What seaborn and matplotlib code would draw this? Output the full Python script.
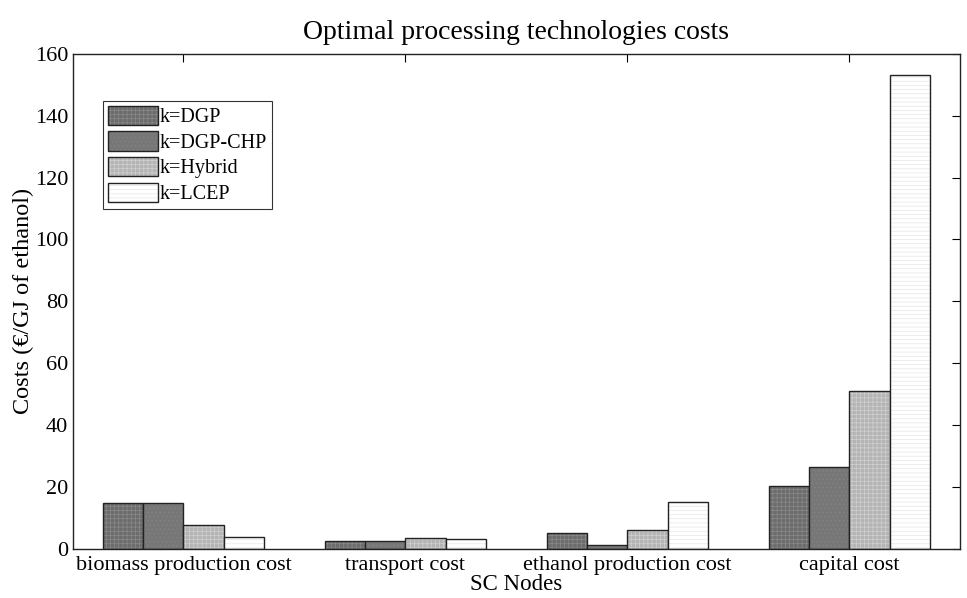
import seaborn as sns, matplotlib, matplotlib.pyplot as plt, numpy as np, pandas as pd
from matplotlib import colors as mcolors

nodes = ['biomass production cost', 'transport cost', 'ethanol production cost', 'capital cost']
techs = ['k=DGP', 'k=DGP-CHP', 'k=Hybrid', 'k=LCEP']
dgp = [14.7, 2.5, 5.3, 20.3]
dgp_chp = [14.7, 2.5, 1.3, 26.4]
hybrid = [7.6, 3.5, 6.0, 51.0]
lcep = [4.0, 3.3, 15.2, 153.3]

df = pd.DataFrame({'node': np.repeat(nodes, 4),
                   'tech': techs * 4,
                   'cost': np.array([dgp, dgp_chp, hybrid, lcep]).T.ravel()})

sns.set_style('white')
plt.rcParams['font.family'] = ['Liberation Serif', 'DejaVu Serif']
plt.rcParams['hatch.linewidth'] = 0.5
plt.rcParams['text.color'] = 'black'
plt.rcParams['axes.labelcolor'] = 'black'

fig, ax = plt.subplots(figsize=(9.67, 5.98), dpi=100)
fills = ['#6c6c6c', '#777777', '#b4b4b4', '#ffffff']
hatch_cols = ['#8a8a8a', '#838383', '#d0d0d0', '#e6e6e6']
hatches = ['++++', '....', '++++', '----']
sns.barplot(data=df, x='node', y='cost', hue='tech', hue_order=techs, order=nodes,
            palette=fills, width=0.727, gap=0, edgecolor='#222222', linewidth=1.0,
            saturation=1, errorbar=None, ax=ax)

# hatch pattern per technology, hatch colour lighter than the outline
for i, cont in enumerate(ax.containers):
    for p in cont:
        p.set_hatch(hatches[i])
        p._hatch_color = mcolors.to_rgba(hatch_cols[i])
leg_handles = ax.get_legend().legend_handles
for i, h in enumerate(leg_handles):
    h.set_hatch(hatches[i])
    h.set_edgecolor('#222222')
    h._hatch_color = mcolors.to_rgba(hatch_cols[i])

ax.set_xlim(-0.5, 3.5)
ax.set_ylim(0, 160)
ax.set_yticks(np.arange(0, 161, 20))
ax.tick_params(direction='in', top=True, right=True, length=6, width=0.8,
               labelsize=16, colors='black', labelcolor='black', pad=3)
ax.tick_params(axis='x', pad=5)
for s in ax.spines.values():
    s.set_visible(True)
    s.set_color('#222222')
    s.set_linewidth(1.0)

ax.set_title('Optimal processing technologies costs', fontsize=20, pad=11, color='black')
ax.set_xlabel('SC Nodes', fontsize=16.5, labelpad=-1)
ax.set_ylabel('Costs (€/GJ of ethanol)', fontsize=17.5, labelpad=1)

leg = ax.legend(handles=leg_handles, labels=techs, loc='upper left',
                bbox_to_anchor=(0.034, 0.905), fontsize=14.5, frameon=True, fancybox=False,
                edgecolor='black', handlelength=2.5, handleheight=1.1,
                handletextpad=0.1, borderpad=0.25, labelspacing=0.2, borderaxespad=0)
leg.get_frame().set_linewidth(0.8)

plt.subplots_adjust(left=0.075, right=0.993, top=0.91, bottom=0.082)
plt.savefig('out.png', dpi=100)
